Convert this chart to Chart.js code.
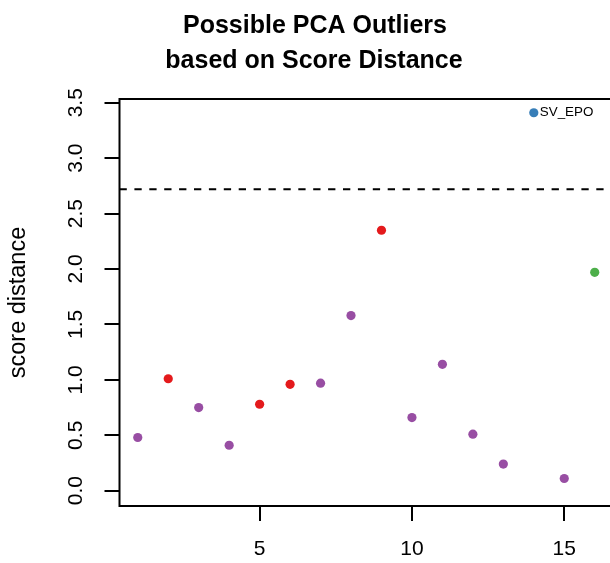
<!DOCTYPE html>
<html>
<head>
<meta charset="utf-8">
<script src="https://cdn.jsdelivr.net/npm/chart.js@4"></script>
<style>
  html, body { margin: 0; padding: 0; background: #fff; overflow: hidden; }
  #wrap { width: 620px; height: 563px; }
</style>
</head>
<body>
<div id="wrap"><canvas id="chart" width="620" height="563"></canvas></div>
<script>
// sample index along x, score distance along y
const sampleIndex = [1, 2, 3, 4, 5, 6, 7, 8, 9, 10, 11, 12, 13, 14, 15, 16];
const scoreDistance = [0.48, 1.01, 0.75, 0.41, 0.78, 0.96, 0.97, 1.58, 2.35, 0.66, 1.14, 0.51, 0.24, 3.41, 0.11, 1.97];
const groups = ["purple", "red", "purple", "purple", "red", "red", "purple", "purple", "red", "purple", "purple", "purple", "purple", "blue", "purple", "green"];
const pointLabels = ["", "", "", "", "", "", "", "", "", "", "", "", "", "SV_EPO", "", ""];
const cutoff = 2.72;
const xTicks = [5, 10, 15];
const yTicks = [0, 0.5, 1, 1.5, 2, 2.5, 3, 3.5];
const titleLines = ["Possible PCA Outliers", "based on Score Distance"];

const COLORS = { purple: "#984EA3", red: "#E41A1C", blue: "#377EB8", green: "#4DAF4A" };
const FONT = "'Liberation Sans', Arial, Helvetica, sans-serif";

const boxAndExtras = {
  id: "boxAndExtras",
  afterDraw(chart) {
    const { ctx, chartArea: a, scales } = chart;
    ctx.save();
    // dashed cutoff line
    const yc = scales.y.getPixelForValue(cutoff);
    ctx.strokeStyle = "#000";
    ctx.lineWidth = 2;
    ctx.setLineDash([7.3, 7.6]);
    ctx.beginPath();
    ctx.moveTo(a.left, yc);
    ctx.lineTo(a.right, yc);
    ctx.stroke();
    ctx.setLineDash([]);
    // plot box
    ctx.strokeRect(a.left, a.top, a.right - a.left, a.bottom - a.top);
    // point labels
    const meta = chart.getDatasetMeta(0);
    ctx.fillStyle = "#000";
    ctx.font = "13.4px " + FONT;
    ctx.textAlign = "left";
    ctx.textBaseline = "middle";
    meta.data.forEach((pt, i) => {
      if (pointLabels[i]) ctx.fillText(pointLabels[i], pt.x + 6, pt.y);
    });
    // two-line title
    ctx.font = "bold 25px " + FONT;
    ctx.textAlign = "center";
    ctx.textBaseline = "alphabetic";
    ctx.fillText(titleLines[0], 315, 33);
    ctx.fillText(titleLines[1], 314, 68);
    ctx.restore();
  },
};

new Chart(document.getElementById("chart"), {
  type: "scatter",
  data: {
    datasets: [{
      data: sampleIndex.map((x, i) => ({ x, y: scoreDistance[i] })),
      backgroundColor: groups.map((g) => COLORS[g]),
      borderWidth: 0,
      pointRadius: 4.6,
      pointHoverRadius: 4.6,
    }],
  },
  options: {
    responsive: false,
    animation: false,
    devicePixelRatio: 1,
    layout: { padding: { top: 99, right: 7, left: 0, bottom: 0 } },
    plugins: { legend: { display: false }, tooltip: { enabled: false }, title: { display: false } },
    scales: {
      x: {
        type: "linear",
        min: 0.4,
        max: 16.6,
        afterBuildTicks: (s) => { s.ticks = xTicks.map((v) => ({ value: v })); },
        afterFit: (s) => { s.height = 57; },
        border: { display: false },
        grid: { drawOnChartArea: false, drawTicks: true, tickLength: 15, color: "#000", lineWidth: 2 },
        ticks: { color: "#000", padding: 16, maxRotation: 0, font: { family: FONT, size: 21 }, callback: (v) => String(v) },
      },
      y: {
        type: "linear",
        min: -0.138,
        max: 3.534,
        afterBuildTicks: (s) => { s.ticks = yTicks.map((v) => ({ value: v })); },
        afterFit: (s) => { s.width = 119.5; },
        border: { display: false },
        grid: { drawOnChartArea: false, drawTicks: true, tickLength: 15, color: "#000", lineWidth: 2 },
        ticks: {
          color: "#000", padding: 14, minRotation: 90, maxRotation: 90, crossAlign: "center",
          font: { family: FONT, size: 21 }, callback: (v) => v.toFixed(1),
        },
        title: { display: true, text: "score distance", color: "#000", padding: { top: 4, bottom: 0 }, font: { family: FONT, size: 23.5 } },
      },
    },
  },
  plugins: [boxAndExtras],
});
</script>
</body>
</html>
